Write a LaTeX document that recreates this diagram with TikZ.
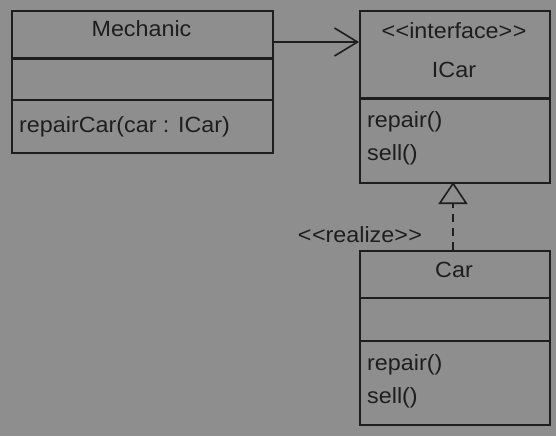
\documentclass[tikz,border=0pt]{standalone}
\usepackage{fontspec}
\setmainfont{Liberation Sans}[Ligatures=NoCommon, FakeStretch=1.06]
\usetikzlibrary{arrows.meta}
\definecolor{bg}{HTML}{8E8E8E}
\definecolor{ink}{HTML}{1E1E1E}
\newcommand{\lguil}{{<}\kern0.02em{<}}
\newcommand{\rguil}{{>}\kern0.02em{>}}
\tikzset{
  box/.style={draw=ink, line width=1.6pt, inner sep=0pt, anchor=north west},
  divider/.style={draw=ink, line width=2.6pt},
  lbl/.style={text=ink, font=\fontsize{22}{26}\selectfont, inner sep=0pt, anchor=base},
  lbll/.style={lbl, anchor=base west},
}
\begin{document}
\begin{tikzpicture}[x=1pt,y=-1pt]
\fill[bg] (0,0) rectangle (556,436);
\useasboundingbox (0,0) rectangle (556,436);
% Mechanic
\node[box, minimum width=261pt, minimum height=142pt] (mech) at (11,10) {};
\draw[divider] (11,58.5) -- (272,58.5);
\draw[divider] (11,100) -- (272,100);
\node[lbl] (mechname) at (141.5,37) {Mechanic};
\node[lbll] (mechop) at (19,132) {repairCar(car : ICar)};
% ICar
\node[box, minimum width=190pt, minimum height=172pt] (icar) at (359,10) {};
\draw[divider] (359,98.5) -- (549,98.5);
\node[lbl] (icarst) at (454,39) {\lguil interface\rguil};
\node[lbl] (icarname) at (454,77) {ICar};
\node[lbll] (icarop1) at (367,127) {repair()};
\node[lbll] (icarop2) at (367,160) {sell()};
% Car
\node[box, minimum width=190pt, minimum height=174pt] (car) at (359,250) {};
\draw[divider] (359,298) -- (549,298);
\draw[divider] (359,341) -- (549,341);
\node[lbl] (carname) at (454,277) {Car};
\node[lbll] (carop1) at (367,370) {repair()};
\node[lbll] (carop2) at (367,403) {sell()};
% connectors
\coordinate (ms) at (272,42);
\coordinate (ie) at (359,42);
\draw[ink, line width=1.6pt, -{Straight Barb[length=23pt, width=28pt, line width=1.6pt]}] (ms) -- (ie);
\coordinate (ct) at (453,250);
\coordinate (ib) at (453,182);
\draw[ink, line width=1.6pt, dash pattern=on 8pt off 6pt, -{Triangle[open, length=22pt, width=29pt, line width=1.6pt]}] (ct) -- (ib);
\node[lbl] (realize) at (360,242) {\lguil realize\rguil};
\end{tikzpicture}
\end{document}
